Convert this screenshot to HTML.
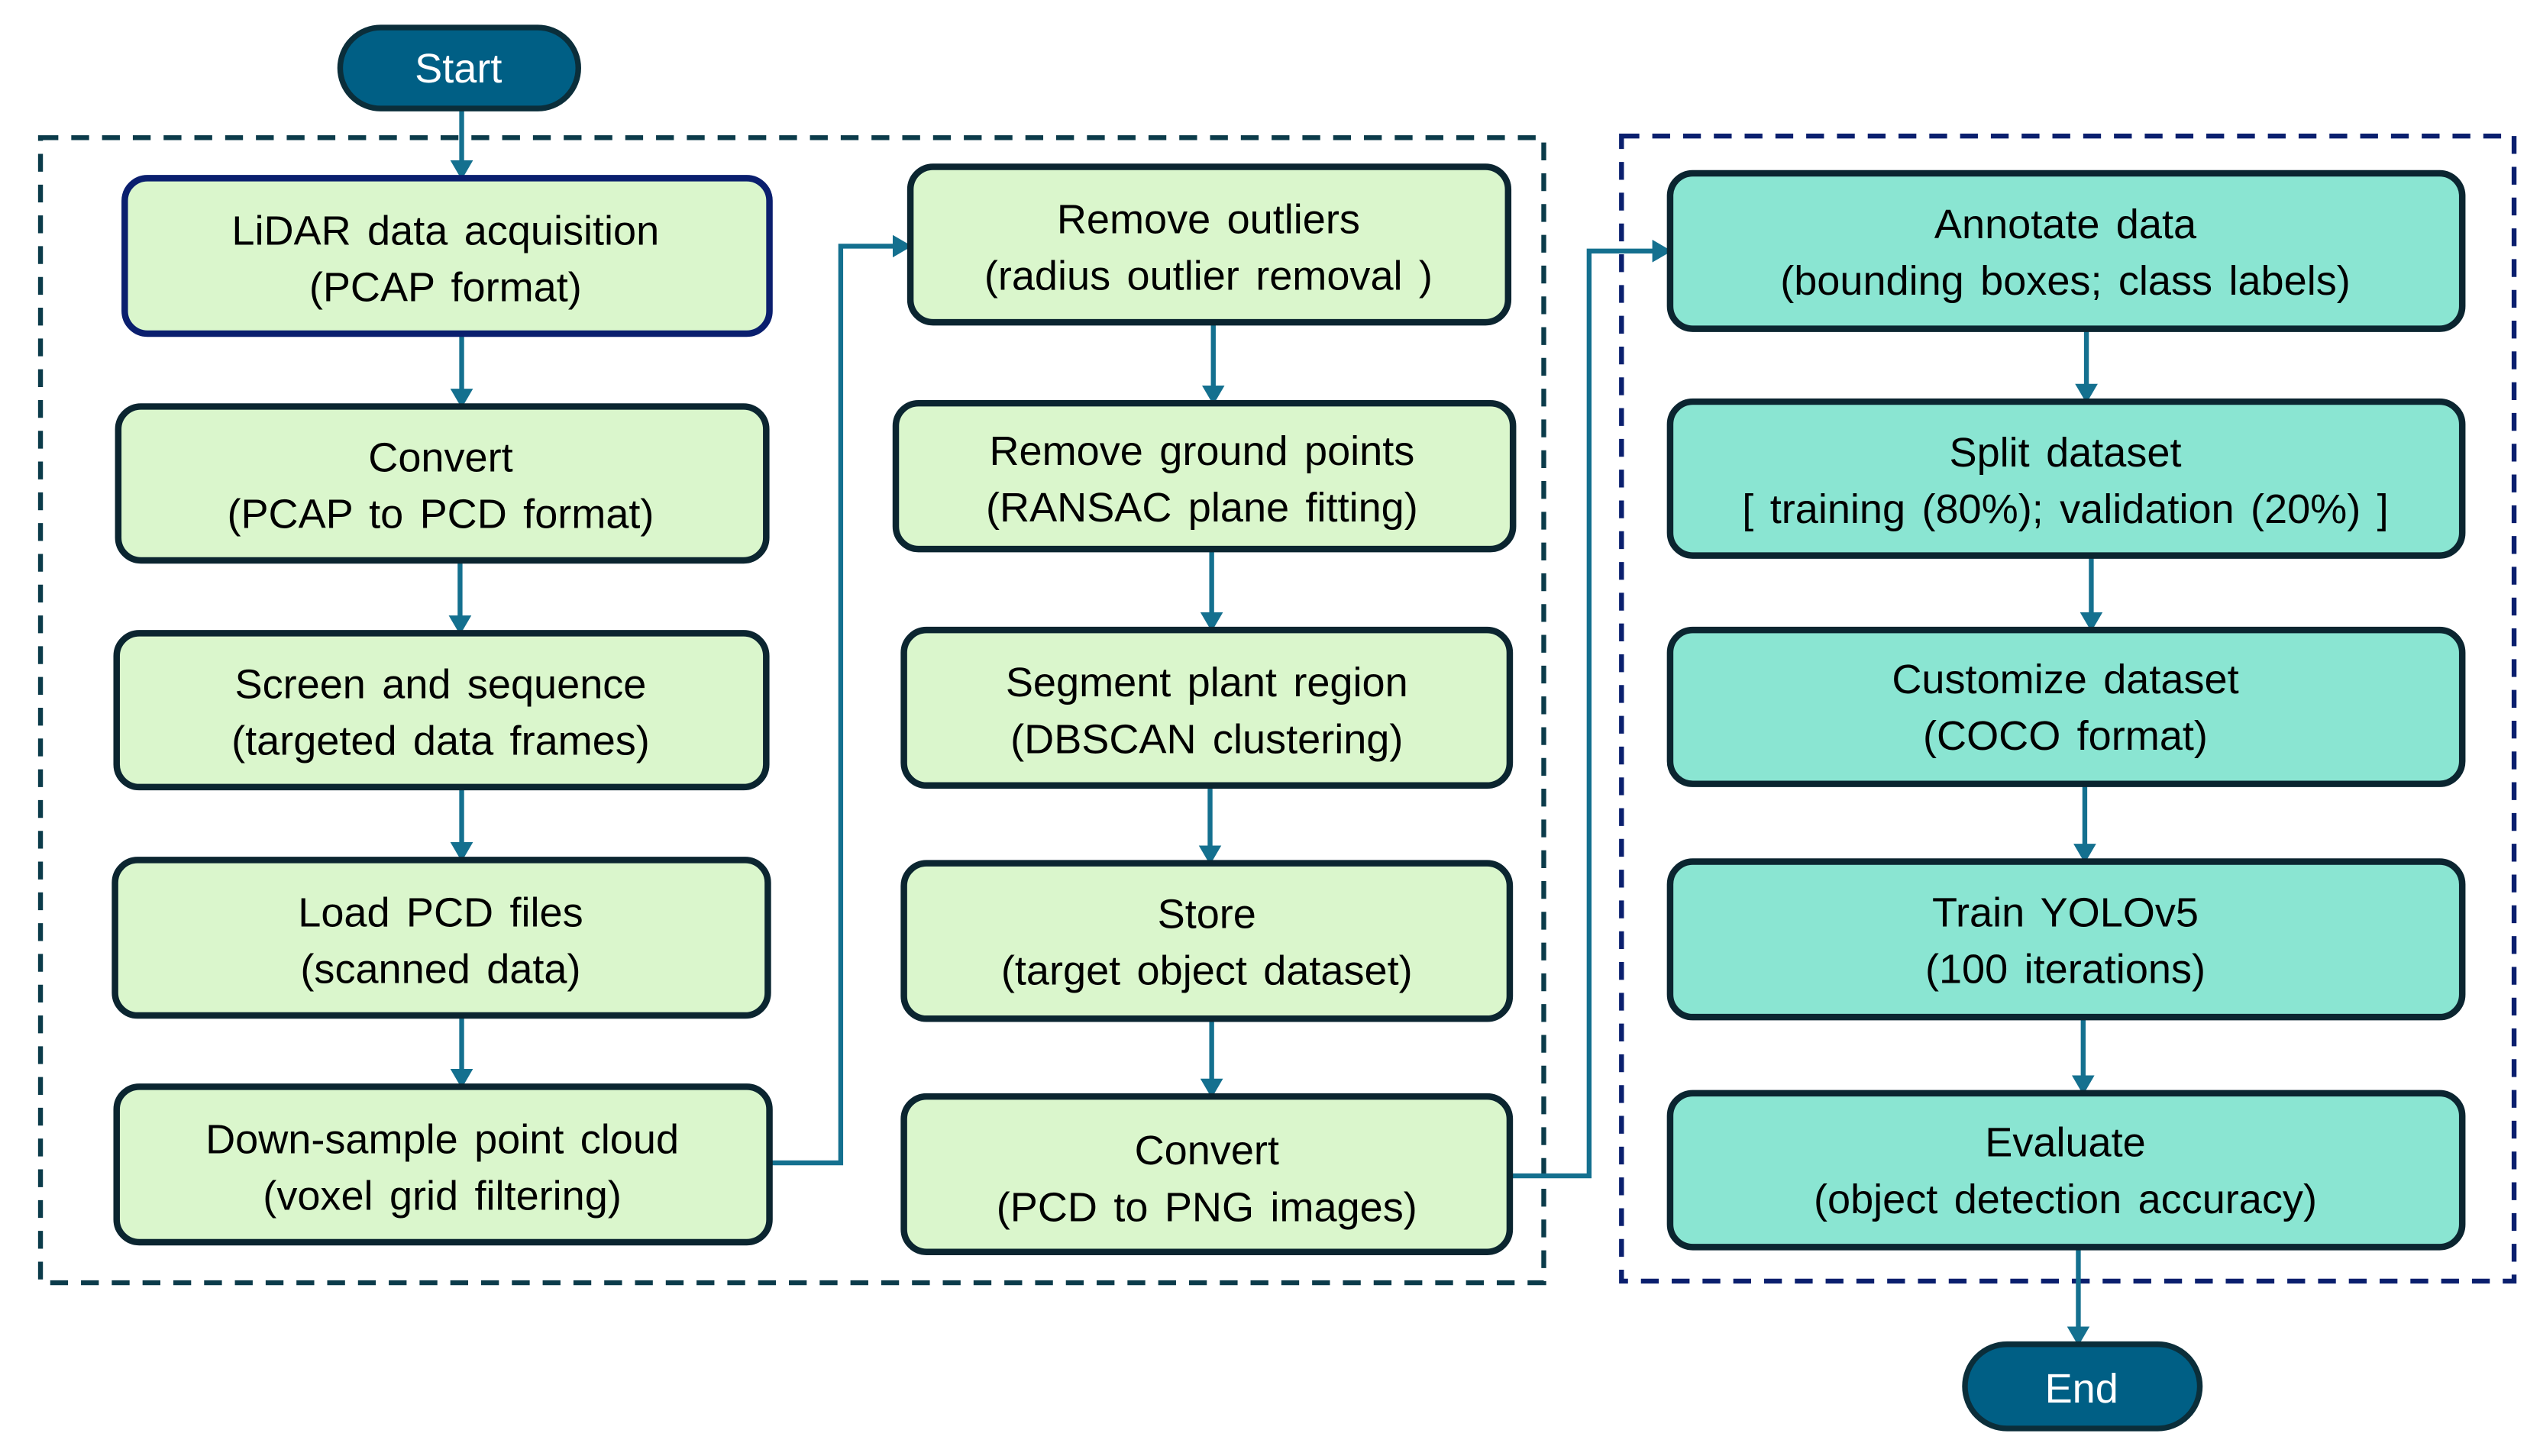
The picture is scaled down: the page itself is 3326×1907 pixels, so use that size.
<!DOCTYPE html>
<html><head><meta charset="utf-8"><style>
html,body{margin:0;padding:0;background:#fff;}
svg{display:block;}
text{font-family:"Liberation Sans",Arial,sans-serif;font-size:25.5px;fill:#000;text-anchor:middle;word-spacing:3px;}
</style></head><body>
<svg width="3326" height="1907" viewBox="0 0 1568 899" preserveAspectRatio="none" xmlns="http://www.w3.org/2000/svg">
<defs>
<marker id="a" markerWidth="12" markerHeight="14" refX="11" refY="7" orient="auto" markerUnits="userSpaceOnUse">
<path d="M0,0 L12,7 L0,14 Z" fill="#14708f"/>
</marker>
</defs>
<rect x="25" y="85" width="928" height="707" fill="none" stroke="#0b3b4a" stroke-width="3" stroke-dasharray="11,8"/>
<rect x="1001" y="84" width="551" height="707" fill="none" stroke="#0a1f6e" stroke-width="3" stroke-dasharray="11,8"/>

<g stroke="#14708f" stroke-width="3" fill="none" marker-end="url(#a)">
<line x1="285" y1="67" x2="285" y2="110"/>
<line x1="285" y1="206" x2="285" y2="251"/>
<line x1="284" y1="346" x2="284" y2="391"/>
<line x1="285" y1="486" x2="285" y2="531"/>
<line x1="285" y1="627" x2="285" y2="671"/>
<polyline points="475,718 519,718 519,152 562,152"/>
<line x1="749" y1="199" x2="749" y2="249"/>
<line x1="748" y1="339" x2="748" y2="389"/>
<line x1="747" y1="485" x2="747" y2="533"/>
<line x1="748" y1="629" x2="748" y2="677"/>
<polyline points="932,726 981,726 981,155 1031,155"/>
<line x1="1288" y1="203" x2="1288" y2="248"/>
<line x1="1291" y1="343" x2="1291" y2="389"/>
<line x1="1287" y1="484" x2="1287" y2="532"/>
<line x1="1286" y1="628" x2="1286" y2="675"/>
<line x1="1283" y1="770" x2="1283" y2="830"/>
</g>

<rect x="210" y="17" width="147" height="50" rx="25" fill="#005f85" stroke="#0b2e3a" stroke-width="3.5"/>
<text x="283" y="51" style="fill:#fff">Start</text>
<rect x="1213" y="830" width="145" height="52" rx="26" fill="#005f85" stroke="#0b2e3a" stroke-width="3.5"/>
<text x="1285" y="866" style="fill:#fff">End</text>

<g fill="#daf6cc" stroke="#0b2530" stroke-width="4">
<rect x="77" y="110" width="398" height="96" rx="14" stroke="#0a1f6e"/>
<rect x="73" y="251" width="400" height="95" rx="14"/>
<rect x="72" y="391" width="401" height="95" rx="14"/>
<rect x="71" y="531" width="403" height="96" rx="14"/>
<rect x="72" y="671" width="403" height="96" rx="14"/>
<rect x="562" y="103" width="369" height="96" rx="14"/>
<rect x="553" y="249" width="381" height="90" rx="14"/>
<rect x="558" y="389" width="374" height="96" rx="14"/>
<rect x="558" y="533" width="374" height="96" rx="14"/>
<rect x="558" y="677" width="374" height="96" rx="14"/>
</g>
<g fill="#8ae5d2" stroke="#0b2530" stroke-width="4">
<rect x="1031" y="107" width="489" height="96" rx="14"/>
<rect x="1031" y="248" width="489" height="95" rx="14"/>
<rect x="1031" y="389" width="489" height="95" rx="14"/>
<rect x="1031" y="532" width="489" height="96" rx="14"/>
<rect x="1031" y="675" width="489" height="95" rx="14"/>
</g>

<text x="275" y="151">LiDAR data acquisition</text><text x="275" y="186">(PCAP format)</text>
<text x="272" y="291">Convert</text><text x="272" y="326">(PCAP to PCD format)</text>
<text x="272" y="431">Screen and sequence</text><text x="272" y="466">(targeted data frames)</text>
<text x="272" y="572">Load PCD files</text><text x="272" y="607">(scanned data)</text>
<text x="273" y="712">Down-sample point cloud</text><text x="273" y="747">(voxel grid filtering)</text>

<text x="746" y="144">Remove outliers</text><text x="746" y="179">(radius outlier removal )</text>
<text x="742" y="287">Remove ground points</text><text x="742" y="322">(RANSAC plane fitting)</text>
<text x="745" y="430">Segment plant region</text><text x="745" y="465">(DBSCAN clustering)</text>
<text x="745" y="573">Store</text><text x="745" y="608">(target object dataset)</text>
<text x="745" y="719">Convert</text><text x="745" y="754">(PCD to PNG images)</text>

<text x="1275" y="147">Annotate data</text><text x="1275" y="182">(bounding boxes; class labels)</text>
<text x="1275" y="288">Split dataset</text><text x="1275" y="323">[ training (80%); validation (20%) ]</text>
<text x="1275" y="428">Customize dataset</text><text x="1275" y="463">(COCO format)</text>
<text x="1275" y="572">Train YOLOv5</text><text x="1275" y="607">(100 iterations)</text>
<text x="1275" y="714">Evaluate</text><text x="1275" y="749">(object detection accuracy)</text>
</svg>
</body></html>
